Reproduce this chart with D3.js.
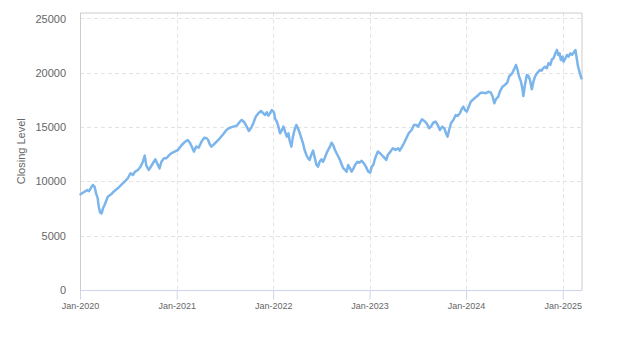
<!DOCTYPE html>
<html>
<head>
<meta charset="utf-8">
<script src="https://cdn.jsdelivr.net/npm/d3@7"></script>
<style>
  html, body { margin: 0; padding: 0; background: #fff; }
  svg { display: block; font-family: "Liberation Sans", Arial, sans-serif; }
</style>
</head>
<body>
<svg id="chart" width="623" height="350"></svg>
<script>
// Trading dates and closing levels
const dates = [
  "2020-01-03","2020-01-18","2020-01-28","2020-02-04","2020-02-13","2020-02-19","2020-02-25",
  "2020-03-02","2020-03-08","2020-03-12","2020-03-17","2020-03-23","2020-03-28","2020-04-03",
  "2020-04-09","2020-04-15","2020-04-28","2020-05-10","2020-05-23","2020-06-05","2020-06-18",
  "2020-06-30","2020-07-10","2020-07-19","2020-07-27","2020-08-07","2020-08-17","2020-08-26",
  "2020-09-02","2020-09-08","2020-09-17","2020-09-25","2020-10-03","2020-10-12","2020-10-19",
  "2020-10-28","2020-11-04","2020-11-14","2020-11-23","2020-12-02","2020-12-11","2020-12-24",
  "2021-01-06","2021-01-20","2021-02-02","2021-02-12","2021-02-21","2021-03-01","2021-03-07",
  "2021-03-16","2021-03-25","2021-04-05","2021-04-15","2021-04-24","2021-04-30","2021-05-06",
  "2021-05-12","2021-05-22","2021-06-01","2021-06-13","2021-06-26","2021-07-08","2021-07-21",
  "2021-08-03","2021-08-16","2021-08-28","2021-09-04","2021-09-14","2021-09-23","2021-10-01",
  "2021-10-09","2021-10-18","2021-10-27","2021-11-06","2021-11-16","2021-11-25","2021-12-01",
  "2021-12-08","2021-12-14","2021-12-20","2021-12-27",
  "2022-01-02","2022-01-05","2022-01-08","2022-01-15","2022-01-21","2022-01-27","2022-02-03",
  "2022-02-09","2022-02-15","2022-02-22","2022-02-28","2022-03-04","2022-03-11","2022-03-17",
  "2022-03-23","2022-03-30","2022-04-05","2022-04-12","2022-04-18","2022-04-24","2022-04-30",
  "2022-05-07","2022-05-13","2022-05-19","2022-05-25","2022-06-01","2022-06-08","2022-06-14",
  "2022-06-20","2022-06-26","2022-07-03","2022-07-09","2022-07-15","2022-07-22","2022-07-28",
  "2022-08-04","2022-08-10","2022-08-16","2022-08-23","2022-08-29","2022-09-05","2022-09-11",
  "2022-09-18","2022-09-24","2022-09-30","2022-10-06","2022-10-12","2022-10-19","2022-10-25",
  "2022-11-01","2022-11-07","2022-11-16","2022-11-23","2022-12-02","2022-12-10","2022-12-18",
  "2022-12-27",
  "2023-01-03","2023-01-09","2023-01-15","2023-01-22","2023-02-01","2023-02-10","2023-02-16",
  "2023-02-22","2023-02-28","2023-03-05","2023-03-11","2023-03-21","2023-03-30","2023-04-09",
  "2023-04-19","2023-04-25","2023-05-04","2023-05-11","2023-05-20","2023-05-29","2023-06-09",
  "2023-06-18","2023-06-27","2023-07-04","2023-07-10","2023-07-18","2023-07-26","2023-08-05",
  "2023-08-14","2023-08-21","2023-08-30","2023-09-08","2023-09-16","2023-09-24","2023-10-03",
  "2023-10-11","2023-10-17","2023-10-23","2023-10-29","2023-11-05","2023-11-14","2023-11-23",
  "2023-11-30","2023-12-09","2023-12-15","2023-12-22","2023-12-28",
  "2024-01-04","2024-01-10","2024-01-19","2024-01-29","2024-02-09","2024-02-17","2024-02-26",
  "2024-03-06","2024-03-16","2024-03-25","2024-04-04","2024-04-11","2024-04-17","2024-04-23",
  "2024-05-02","2024-05-08","2024-05-18","2024-05-27","2024-06-05","2024-06-13","2024-06-22",
  "2024-06-30","2024-07-08","2024-07-14","2024-07-20","2024-07-27","2024-08-01","2024-08-05",
  "2024-08-11","2024-08-18","2024-08-24","2024-08-30","2024-09-06","2024-09-12","2024-09-18",
  "2024-09-25","2024-10-01","2024-10-07","2024-10-13","2024-10-19","2024-10-26","2024-11-02",
  "2024-11-08","2024-11-15","2024-11-21","2024-11-27","2024-12-04","2024-12-10","2024-12-15",
  "2024-12-20","2024-12-25","2024-12-31",
  "2025-01-04","2025-01-11","2025-01-17","2025-01-23","2025-01-30","2025-02-05","2025-02-11",
  "2025-02-18","2025-02-24","2025-02-28","2025-03-07","2025-03-13"
];
const closes = [
  8810, 9050, 9200, 9100, 9480, 9670, 9510,
  8900, 8440, 7670, 7150, 7060, 7520, 7830,
  8200, 8590, 8810, 9120, 9360, 9670, 9970,
  10290, 10750, 10590, 10890, 11050, 11350, 11810,
  12370, 11450, 11050, 11350, 11670, 12030, 11670,
  11200, 11810, 12130, 12130, 12370, 12590, 12740,
  12890, 13350, 13660, 13810, 13510, 13100, 12740,
  13200, 13100, 13660, 14020, 13970, 13810, 13420,
  13200, 13420, 13660, 13970, 14340, 14730, 14940,
  15040, 15130, 15500, 15650, 15440, 15040, 14640,
  14890, 15350, 15960, 16270, 16480, 16270, 16110,
  16360, 16050, 16270, 16570,
  16420, 16270, 15810, 15500, 15040, 14430, 14730,
  15040, 14580, 14120, 14430, 13810, 13200, 14120,
  14730, 15190, 14890, 14430, 13970, 13510, 12890,
  12430, 12130, 11970, 12430, 12830, 12130, 11510,
  11350, 11810, 12030, 11810, 12130, 12590, 12890,
  13200, 13560, 13350, 12890, 12590, 12270, 11970,
  11510, 11200, 11050, 10890, 11510, 11200, 10890,
  11200, 11510, 11810, 11720, 11900, 11670, 11360,
  10890,
  10800, 11360, 11510, 12130, 12740, 12590, 12430,
  12270, 12130, 11970, 12430, 12740, 13050, 12890,
  13050, 12830, 13200, 13510, 13970, 14430, 14730,
  15190, 15190, 15040, 15350, 15720, 15590, 15350,
  14890, 15040, 15400, 15500, 15190, 14730, 15040,
  14890, 14430, 14120, 14730, 15350, 15650, 16110,
  16020, 16270, 16640, 16880, 16570,
  16420, 16800, 17340, 17560, 17800, 17960, 18170,
  18170, 18110, 18260, 18170, 17800, 17190, 17560,
  17800, 18260, 18720, 18880, 19090, 19710, 19890,
  20260, 20720, 20260, 19640, 19180, 18570, 17860,
  18880, 19800, 19710, 19340, 18480, 19180, 19640,
  19950, 20100, 20260, 20200, 20420, 20560, 20420,
  20880, 20720, 21240, 21330, 21790, 22100, 21640,
  21790, 21180, 21480,
  21020, 21330, 21640, 21480, 21790, 21640, 21850,
  22100, 21180, 20560, 19950, 19490
];
const yTicks = [0, 5000, 10000, 15000, 20000, 25000];
const xTickYears = [2020, 2021, 2022, 2023, 2024, 2025];
const yTitle = "Closing Level";

const parse = d3.utcParse("%Y-%m-%d");
const series = dates.map((d, i) => ({ date: parse(d), value: closes[i] }));

const svg = d3.select("#chart");
const m = { left: 80, right: 41.5, top: 12.5, bottom: 60 };
const W = 623, H = 350;
const x0 = m.left, x1 = W - m.right, y0 = H - m.bottom, y1 = m.top;

const x = d3.scaleUtc()
  .domain([Date.UTC(2020, 0, 1), Date.UTC(2025, 2, 13)])
  .range([x0, x1]);
const y = d3.scaleLinear().domain([0, 25550]).range([y0, y1]);

const xTicks = xTickYears.map(yr => new Date(Date.UTC(yr, 0, 1)));
const fmt = d3.utcFormat("%b-%Y");

// Dashed grid
const grid = svg.append("g");
grid.selectAll("line.h").data(yTicks.filter(v => v > 0)).join("line")
  .attr("x1", x0).attr("x2", x1)
  .attr("y1", d => Math.round(y(d)) + 0.5).attr("y2", d => Math.round(y(d)) + 0.5)
  .attr("stroke", "#e3e3e3").attr("stroke-dasharray", "4,3");
grid.selectAll("line.v").data(xTicks.filter(d => x(d) > x0 + 1)).join("line")
  .attr("x1", d => Math.round(x(d)) + 0.5).attr("x2", d => Math.round(x(d)) + 0.5)
  .attr("y1", y1).attr("y2", y0)
  .attr("stroke", "#e3e3e3").attr("stroke-dasharray", "4,3");

// Plot frame (left, top, right)
svg.append("path")
  .attr("d", `M${x0 + 0.5},${y0}V${y1 + 0.5}H${x1 + 0.5}V${y0}`)
  .attr("fill", "none").attr("stroke", "#cccccc");

// X axis
const xAxis = svg.append("g")
  .attr("transform", `translate(0,${y0 + 0.5})`)
  .call(d3.axisBottom(x).tickValues(xTicks).tickFormat(fmt).tickSize(9).tickPadding(3));
xAxis.select(".domain").attr("stroke", "#ccd6eb").attr("d", `M${x0},0H${x1 + 1}`);
xAxis.selectAll(".tick line").attr("stroke", "#ccd6eb");
xAxis.selectAll(".tick text").attr("fill", "#666").style("font-size", "9px");

// Y axis labels
const yAxis = svg.append("g")
  .attr("transform", `translate(${x0},0)`)
  .call(d3.axisLeft(y).tickValues(yTicks).tickFormat(d3.format("d")).tickSize(0).tickPadding(14));
yAxis.select(".domain").remove();
yAxis.selectAll(".tick text").attr("fill", "#666").style("font-size", "11px");

// Y axis title
svg.append("text")
  .attr("transform", `translate(25,${(y0 + y1) / 2}) rotate(-90)`)
  .attr("text-anchor", "middle")
  .attr("fill", "#666")
  .style("font-size", "11px")
  .text(yTitle);

// Series line
const line = d3.line().x(d => x(d.date)).y(d => y(d.value)).curve(d3.curveLinear);
svg.append("path")
  .datum(series)
  .attr("d", line)
  .attr("fill", "none")
  .attr("stroke", "#7cb5ec")
  .attr("stroke-width", 2.5)
  .attr("stroke-linejoin", "round")
  .attr("stroke-linecap", "round");
</script>
</body>
</html>
